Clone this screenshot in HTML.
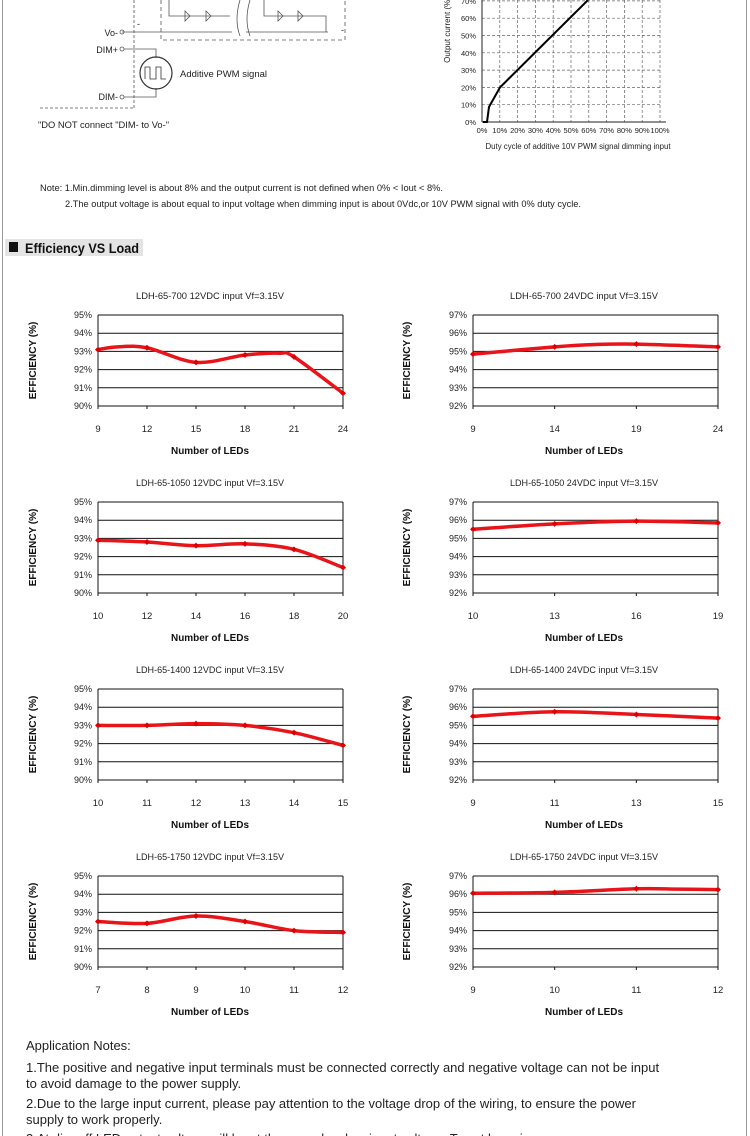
<!DOCTYPE html>
<html><head><meta charset="utf-8"><style>
body{margin:0;background:#fff;width:750px;height:1136px;overflow:hidden;font-family:"Liberation Sans",sans-serif}
svg{display:block}
</style></head><body>
<svg id="s" width="750" height="1136" viewBox="0 0 750 1136" font-family="Liberation Sans, sans-serif">
<line x1="2.5" y1="0" x2="2.5" y2="1136" stroke="#999" stroke-width="1"/>
<line x1="746.5" y1="0" x2="746.5" y2="1136" stroke="#999" stroke-width="1"/>
<g stroke="#555" fill="none" stroke-width="0.8">
<path d="M134 0V108 M40 108H134" stroke-dasharray="3,2"/>
<path d="M161 0V40H345V0" stroke-dasharray="4,3"/>
<path d="M122 32H232 M246 32H328"/>
<path d="M169 0V16H230 M264 0V16H326V32"/>
<path d="M240 0Q234 20 240 36 M250 0Q244 20 250 36"/>
<circle cx="122" cy="32" r="2"/><circle cx="122" cy="49" r="2"/><circle cx="122" cy="97" r="2"/>
<path d="M124 49H156V58 M124 97H156V88"/>
<circle cx="156" cy="73" r="16" stroke="#333" stroke-width="1.2"/>
<path d="M145 79V67H150V79H156V67H161V79H166" stroke="#333"/>
<path d="M185 11l5 5-5 5z M206 11l5 5-5 5z M278 11l5 5-5 5z M298 11l5 5-5 5z"/>
</g>
<g font-size="9" fill="#222">
<text x="118" y="36" text-anchor="end">Vo-</text>
<text x="118" y="53" text-anchor="end">DIM+</text>
<text x="118" y="100" text-anchor="end">DIM-</text>
<text x="180" y="77" textLength="87" lengthAdjust="spacingAndGlyphs">Additive PWM signal</text>
<text x="38" y="128" textLength="131" lengthAdjust="spacingAndGlyphs">"DO NOT connect "DIM- to Vo-"</text>
<text x="137" y="27">-</text><text x="341" y="33">-</text>
</g>
<g id="dim"></g>
<g font-size="9.5" fill="#222">
<text x="40" y="191" textLength="403" lengthAdjust="spacingAndGlyphs">Note: 1.Min.dimming level is about 8% and the output current is not defined when 0% &lt; Iout &lt; 8%.</text>
<text x="65" y="207" textLength="516" lengthAdjust="spacingAndGlyphs">2.The output voltage is about equal to input voltage when dimming input is about 0Vdc,or 10V PWM signal with 0% duty cycle.</text>
</g>
<rect x="5" y="239" width="138" height="17" fill="#e4e4e4"/>
<rect x="9" y="242" width="9" height="10" fill="#111"/>
<text x="25" y="253" font-size="14" font-weight="bold" fill="#111" textLength="114" lengthAdjust="spacingAndGlyphs">Efficiency VS Load</text>
<g id="charts"></g>
<g font-size="13" fill="#222">
<text x="26" y="1050">Application Notes:</text>
<text x="26" y="1072">1.The positive and negative input terminals must be connected correctly and negative voltage can not be input</text>
<text x="26" y="1088">to avoid damage to the power supply.</text>
<text x="26" y="1108">2.Due to the large input current, please pay attention to the  voltage drop of the wiring, to ensure the power</text>
<text x="26" y="1124">supply to work properly.</text>
<text x="26" y="1143">3.At dim-off LED output voltage will be at the same level as input voltage. To set lamp in</text>
</g>
</svg>
<script>
const NS="http://www.w3.org/2000/svg";
function el(p,t,a,txt){const e=document.createElementNS(NS,t);for(const k in a)e.setAttribute(k,a[k]);if(txt!==undefined)e.textContent=txt;p.appendChild(e);return e;}
const d=document.getElementById('dim');
const X0=482,X1=660,Y0=122,st=17.3;
for(let i=1;i<=10;i++){const x=X0+(X1-X0)*i/10;el(d,'line',{x1:x,y1:0,x2:x,y2:Y0,stroke:'#666','stroke-dasharray':'3,2','stroke-width':0.7});}
for(let i=1;i<=7;i++){const y=Y0-st*i;el(d,'line',{x1:X0,y1:y,x2:X1,y2:y,stroke:'#666','stroke-dasharray':'3,2','stroke-width':0.7});}
el(d,'line',{x1:X0,y1:0,x2:X0,y2:Y0,stroke:'#222'});el(d,'line',{x1:X0,y1:Y0,x2:X1+6,y2:Y0,stroke:'#222'});
for(let i=0;i<=7;i++)el(d,'text',{x:X0-6,y:Y0-st*i+3,'font-size':7.5,'text-anchor':'end',fill:'#222'},(i*10)+'%');
for(let i=0;i<=10;i++)el(d,'text',{x:X0+(X1-X0)*i/10,y:Y0+11,'font-size':7.5,'text-anchor':'middle',fill:'#222'},(i*10)+'%');
el(d,'text',{x:578,y:149,'font-size':8,'text-anchor':'middle',fill:'#222',textLength:185,lengthAdjust:'spacingAndGlyphs'},'Duty cycle of additive 10V PWM signal dimming input');
el(d,'text',{x:450,y:30,'font-size':8,'text-anchor':'middle',fill:'#222',transform:'rotate(-90 450 30)'},'Output current (%)');
el(d,'polyline',{points:`${X0+1},${Y0} ${X0+5},${Y0} ${X0+7},${Y0-15} ${X0+18},${Y0-st*2} 588,0`,fill:'none',stroke:'#000','stroke-width':2});
const C=[
["LDH-65-700  12VDC input Vf=3.15V",[9,12,15,18,21,24],90,[[0,93.1],[0.4,93.25],[1,93.2],[2,92.4],[3,92.8],[3.7,92.9],[4,92.7],[5,90.7]]],
["LDH-65-700  24VDC input Vf=3.15V",[9,14,19,24],92,[[0,94.85],[1,95.25],[1.5,95.38],[2,95.4],[3,95.25]]],
["LDH-65-1050 12VDC input Vf=3.15V",[10,12,14,16,18,20],90,[[0,92.9],[1,92.8],[2,92.6],[3,92.7],[4,92.4],[5,91.4]]],
["LDH-65-1050 24VDC input Vf=3.15V",[10,13,16,19],92,[[0,95.5],[1,95.8],[2,95.95],[3,95.85]]],
["LDH-65-1400 12VDC input Vf=3.15V",[10,11,12,13,14,15],90,[[0,93],[1,93],[2,93.1],[3,93],[4,92.6],[5,91.9]]],
["LDH-65-1400 24VDC input Vf=3.15V",[9,11,13,15],92,[[0,95.5],[1,95.75],[2,95.6],[3,95.4]]],
["LDH-65-1750 12VDC input Vf=3.15V",[7,8,9,10,11,12],90,[[0,92.5],[1,92.4],[2,92.8],[3,92.5],[4,92.0],[5,91.9]]],
["LDH-65-1750 24VDC input Vf=3.15V",[9,10,11,12],92,[[0,96.05],[1,96.1],[2,96.3],[2.5,96.28],[3,96.25]]]];
const g=document.getElementById('charts');
C.forEach((c,i)=>{
 const col=i%2,row=Math.floor(i/2);
 const L=col?473:98,R=col?718:343,T=315+row*187,B=T+91,H=(B-T)/5;
 const cx=col?584:210;
 el(g,'text',{x:cx,y:T-16,'font-size':9,'text-anchor':'middle',fill:'#222',textLength:148,lengthAdjust:'spacingAndGlyphs'},c[0]);
 for(let k=0;k<=5;k++){const y=B-H*k;el(g,'line',{x1:L,y1:y,x2:R,y2:y,stroke:'#111','stroke-width':1});
  el(g,'text',{x:L-6,y:y+3,'font-size':9,'text-anchor':'end',fill:'#222'},(c[2]+k)+'%');}
 el(g,'line',{x1:L,y1:T,x2:L,y2:B,stroke:'#111'});el(g,'line',{x1:R,y1:T,x2:R,y2:B,stroke:'#111'});
 const n=c[1].length-1,dx=(R-L)/n;
 c[1].forEach((v,k)=>{el(g,'text',{x:L+dx*k,y:B+26,'font-size':9.5,'text-anchor':'middle',fill:'#222'},v);
  el(g,'line',{x1:L+dx*k,y1:B,x2:L+dx*k,y2:B+3,stroke:'#111'});});
 el(g,'text',{x:cx,y:B+48,'font-size':10.5,'font-weight':'bold','text-anchor':'middle',fill:'#111',textLength:78,lengthAdjust:'spacingAndGlyphs'},'Number of LEDs');
 const yl=col?410:36,ym=(T+B)/2;
 el(g,'text',{x:yl,y:ym,'font-size':10,'font-weight':'bold','text-anchor':'middle',fill:'#111',transform:`rotate(-90 ${yl} ${ym})`},'EFFICIENCY (%)');
 const P=c[3].map(p=>[L+p[0]*dx,B-(p[1]-c[2])*H]);
 let s=`M${P[0][0]},${P[0][1]}`;
 for(let k=0;k<P.length-1;k++){const p0=P[k-1]||P[k],p1=P[k],p2=P[k+1],p3=P[k+2]||p2;
  s+=` C${p1[0]+(p2[0]-p0[0])/6},${p1[1]+(p2[1]-p0[1])/6} ${p2[0]-(p3[0]-p1[0])/6},${p2[1]-(p3[1]-p1[1])/6} ${p2[0]},${p2[1]}`;}
 el(g,'path',{d:s,fill:'none',stroke:'#e8141a','stroke-width':3.5,'stroke-linecap':'round'});
 c[3].filter(p=>Number.isInteger(p[0])).forEach(p=>{const x=L+p[0]*dx,y=B-(p[1]-c[2])*H;
  el(g,'path',{d:`M${x-3},${y}L${x},${y-3}L${x+3},${y}L${x},${y+3}Z`,fill:'#d00'});});
});
</script>
</body></html>
